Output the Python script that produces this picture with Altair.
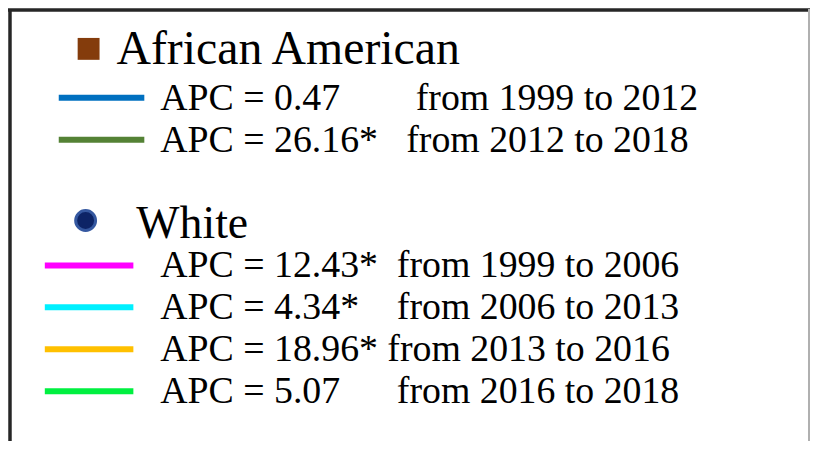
import altair as alt
import pandas as pd

# ---- content ----
groups = ["African American", "White"]
group_colors = ["#843C0C", "#0D2466"]
apc_labels = ["APC = 0.47", "APC = 26.16*", "APC = 12.43*", "APC = 4.34*", "APC = 18.96*", "APC = 5.07"]
periods = ["from 1999 to 2012", "from 2012 to 2018", "from 1999 to 2006",
           "from 2006 to 2013", "from 2013 to 2016", "from 2016 to 2018"]
row_group = ["African American", "African American", "White", "White", "White", "White"]
line_colors = ["#0070C0", "#548235", "#FF00FF", "#00F0FF", "#FFC000", "#00F040"]

# ---- layout (row order slots and column gaps) ----
header_slot = [0, 4]
row_slot = [1, 2, 5, 6, 7, 8]
gap_spaces = [8, 3, 2, 4, 1, 6]

NBSP = "\u00a0"
rows = pd.DataFrame({
    "group": row_group,
    "slot": row_slot,
    "label": [a + NBSP * g + p for a, p, g in zip(apc_labels, periods, gap_spaces)],
    "color": line_colors,
})
heads = pd.DataFrame({"group": groups, "slot": header_slot, "color": group_colors})

yscale = alt.Scale(domain=[0, 8], range=[47, 384])
Y = alt.Y("slot:Q", scale=yscale, axis=None)
FONT = "Liberation Serif"

base_rows = alt.Chart(rows)
base_heads = alt.Chart(heads)

aa_lines = base_rows.transform_filter(alt.datum.group == "African American").mark_rule(
    strokeWidth=6, strokeCap="butt").encode(
    x=alt.value(51), x2=alt.value(137), y=Y, color=alt.Color("color:N", scale=None))
w_lines = base_rows.transform_filter(alt.datum.group == "White").mark_rule(
    strokeWidth=6, strokeCap="butt").encode(
    x=alt.value(37), x2=alt.value(126), y=Y, color=alt.Color("color:N", scale=None))

row_text = base_rows.mark_text(font=FONT, fontSize=38, align="left", baseline="middle",
                               color="black", dy=1).encode(
    x=alt.value(153), y=Y, text="label:N")

aa_sym = base_heads.transform_filter(alt.datum.group == "African American").mark_square(
    size=484, opacity=1, yOffset=-7).encode(
    x=alt.value(81), y=Y, color=alt.Color("color:N", scale=None))
w_sym = base_heads.transform_filter(alt.datum.group == "White").mark_point(
    shape="circle", filled=True, size=400, opacity=1, stroke="#3558A0", strokeWidth=3,
    yOffset=-3).encode(
    x=alt.value(78), y=Y, fill=alt.Fill("color:N", scale=None))

aa_head = base_heads.transform_filter(alt.datum.group == "African American").mark_text(
    font=FONT, fontSize=48, align="left", baseline="middle", color="black", dy=-6).encode(
    x=alt.value(109), y=Y, text="group:N")
w_head = base_heads.transform_filter(alt.datum.group == "White").mark_text(
    font=FONT, fontSize=46, align="left", baseline="middle", color="black", dy=1).encode(
    x=alt.value(129), y=Y, text="group:N")

border_top = alt.Chart(heads).mark_rule(color="#262626", strokeWidth=3).encode(
    x=alt.value(0), x2=alt.value(806), y=alt.value(1))
border_left = alt.Chart(heads).mark_rule(color="#262626", strokeWidth=3).encode(
    x=alt.value(2), y=alt.value(0), y2=alt.value(440))
border_right = alt.Chart(heads).mark_rule(color="#b0b0b0", strokeWidth=2).encode(
    x=alt.value(805), y=alt.value(0), y2=alt.value(440))

chart = alt.layer(
    border_top, border_left, border_right,
    aa_lines, w_lines, row_text, aa_sym, w_sym, aa_head, w_head
).properties(width=806, height=433, padding=0, autosize="none",
             background="white").configure_view(stroke=None)

chart.save("out.html", embed_options={"renderer": "svg", "actions": False})
